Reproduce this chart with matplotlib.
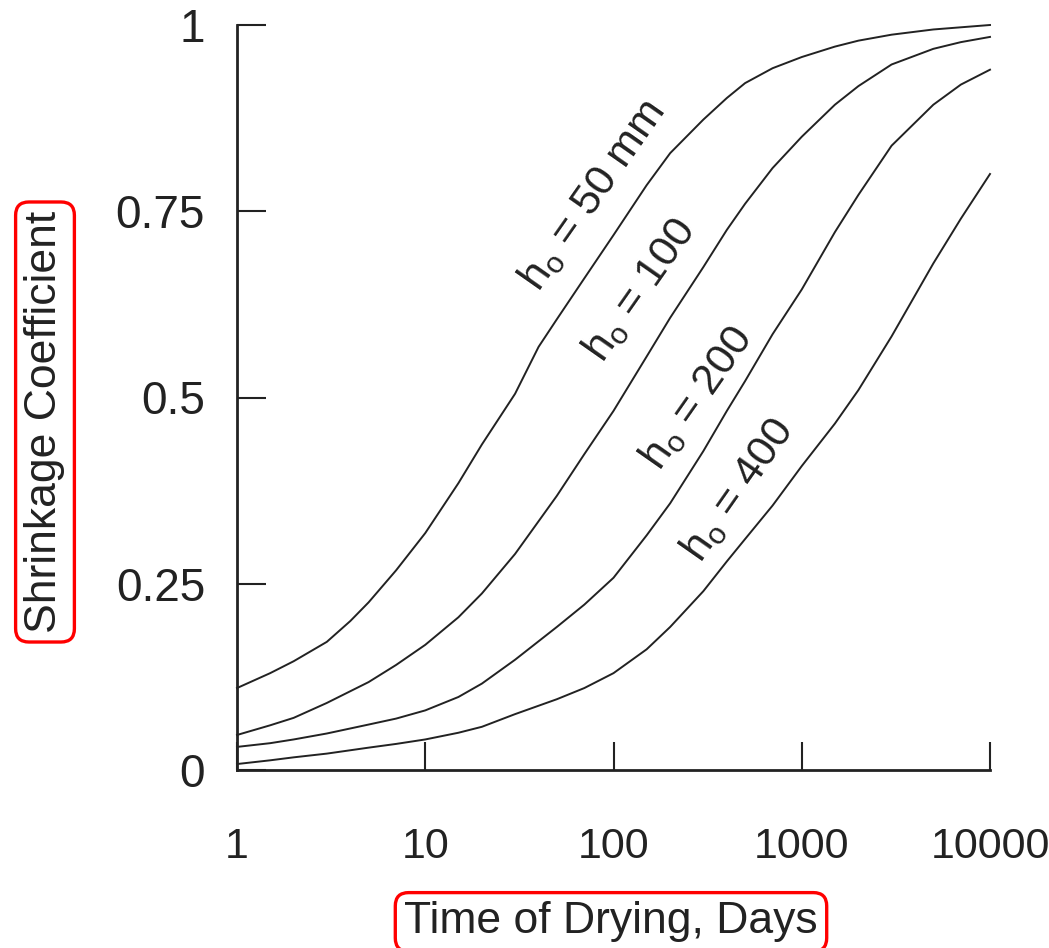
import matplotlib
matplotlib.use('Agg')
import matplotlib.pyplot as plt

plt.rcParams['font.family'] = ['Liberation Sans', 'DejaVu Sans']
plt.rcParams['mathtext.fontset'] = 'custom'
plt.rcParams['mathtext.rm'] = 'Liberation Sans'

# curves (days, coefficient)
t_50 = [1, 1.5, 2, 3, 4, 5, 7, 10, 15, 20, 30, 40, 50, 70, 100, 150, 200, 300, 400, 500, 700,
        1000, 1500, 2000, 3000, 5000, 10000]
y_50 = [0.110, 0.130, 0.146, 0.172, 0.200, 0.225, 0.268, 0.318, 0.385, 0.437, 0.505, 0.568,
        0.605, 0.660, 0.718, 0.785, 0.828, 0.873, 0.902, 0.922, 0.942, 0.957, 0.971, 0.979,
        0.987, 0.994, 1.000]

t_100 = [1, 1.5, 2, 3, 5, 7, 10, 15, 20, 30, 50, 70, 100, 150, 200, 300, 400, 500, 700, 1000,
         1500, 2000, 3000, 5000, 7000, 10000]
y_100 = [0.047, 0.060, 0.070, 0.090, 0.118, 0.141, 0.168, 0.205, 0.237, 0.290, 0.368, 0.424,
         0.482, 0.555, 0.607, 0.675, 0.725, 0.760, 0.808, 0.850, 0.893, 0.918, 0.947, 0.968,
         0.977, 0.984]

t_200 = [1, 1.5, 2, 3, 5, 7, 10, 15, 20, 30, 50, 70, 100, 150, 200, 300, 400, 500, 700, 1000,
         1500, 2000, 3000, 5000, 7000, 10000]
y_200 = [0.031, 0.036, 0.041, 0.049, 0.061, 0.069, 0.080, 0.098, 0.116, 0.148, 0.192, 0.222,
         0.258, 0.315, 0.358, 0.428, 0.482, 0.522, 0.585, 0.645, 0.722, 0.772, 0.838, 0.893,
         0.920, 0.940]

t_400 = [1, 1.5, 2, 3, 5, 7, 10, 15, 20, 30, 50, 70, 100, 150, 200, 300, 400, 500, 700, 1000,
         1500, 2000, 3000, 5000, 7000, 10000]
y_400 = [0.008, 0.013, 0.017, 0.022, 0.030, 0.035, 0.041, 0.050, 0.058, 0.075, 0.095, 0.110,
         0.130, 0.162, 0.192, 0.240, 0.280, 0.310, 0.355, 0.408, 0.465, 0.510, 0.582, 0.680,
         0.740, 0.800]

curve_labels = [r'h$_\mathregular{o}$ = 50 mm', r'h$_\mathregular{o}$ = 100',
                r'h$_\mathregular{o}$ = 200', r'h$_\mathregular{o}$ = 400']
label_pos = [(77, 0.772), (138, 0.644), (278, 0.499), (459, 0.376)]

x_ticks = [1, 10, 100, 1000, 10000]
x_ticklabels = ['1', '10', '100', '1000', '10000']
y_ticks = [0, 0.25, 0.5, 0.75, 1]
y_ticklabels = ['0', '0.25', '0.5', '0.75', '1']

ink = '#222222'

fig = plt.figure(figsize=(10.49, 9.48), dpi=100)
ax = fig.add_axes([237 / 1049, 178 / 948, 753 / 1049, 745 / 948])

for t, y in [(t_50, y_50), (t_100, y_100), (t_200, y_200), (t_400, y_400)]:
    ax.plot(t, y, color=ink, lw=1.4, clip_on=False)

for lab, (tx, ty) in zip(curve_labels, label_pos):
    ax.text(tx, ty, lab, rotation=55, rotation_mode='anchor', ha='center', va='center',
            fontsize=31, color=ink)

ax.set_xscale('log')
ax.set_xlim(1, 10000)
ax.set_ylim(0, 1)
ax.set_xticks(x_ticks)
ax.set_xticklabels(x_ticklabels)
ax.minorticks_off()
ax.set_yticks(y_ticks)
ax.set_yticklabels(y_ticklabels)

for s in ['top', 'right']:
    ax.spines[s].set_visible(False)
for s in ['left', 'bottom']:
    ax.spines[s].set_linewidth(2)
    ax.spines[s].set_color(ink)

ax.tick_params(axis='x', direction='in', length=20, width=1.5, pad=41, labelsize=31,
               colors=ink)
ax.tick_params(axis='y', direction='in', length=21, width=1.5, pad=23, labelsize=33,
               colors=ink)

box = dict(boxstyle='round,pad=0.2,rounding_size=0.3', fc='none', ec='red', lw=2.4)
ax.set_xlabel('Time of Drying, Days', fontsize=32, color=ink, bbox=box, va='center')
ax.set_ylabel('Shrinkage Coefficient', fontsize=32, color=ink, bbox=box, va='center')
ax.xaxis.set_label_coords((611 - 237) / 753, (770 - 922) / 745)
ax.yaxis.set_label_coords((45 - 237) / 753, (770 - 422) / 745)

fig.savefig('out.png', dpi=100, facecolor='white')
